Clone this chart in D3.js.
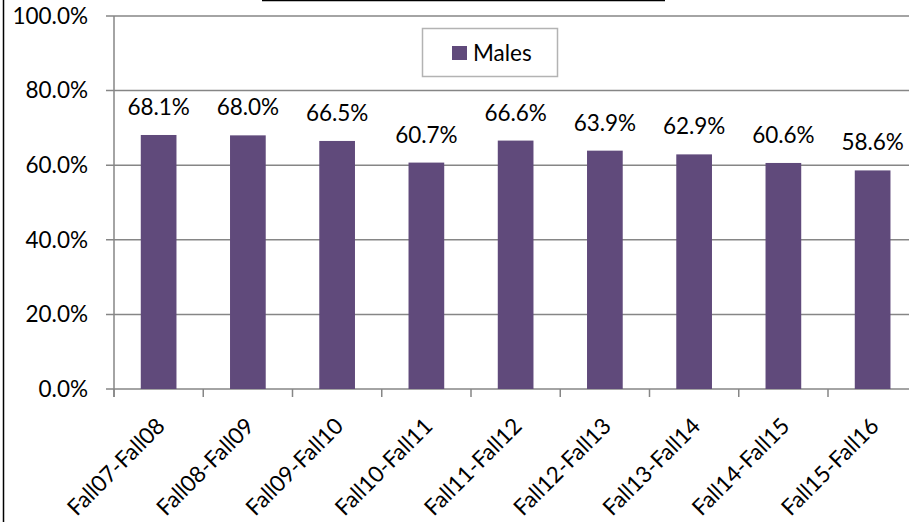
<!DOCTYPE html>
<html>
<head>
<meta charset="utf-8">
<script src="https://cdn.jsdelivr.net/npm/d3@7"></script>
<style>
    body { margin: 0; background: #fff; }
    svg { display: block; font-family: Lato, "Open Sans", sans-serif; }
</style>
</head>
<body>
<script>
var categories = ["Fall07-Fall08", "Fall08-Fall09", "Fall09-Fall10", "Fall10-Fall11", "Fall11-Fall12",
    "Fall12-Fall13", "Fall13-Fall14", "Fall14-Fall15", "Fall15-Fall16"];
var malesValues = [68.1, 68.0, 66.5, 60.7, 66.6, 63.9, 62.9, 60.6, 58.6];
var yTicks = [0, 20, 40, 60, 80, 100];
var seriesName = "Males";

var width = 909;
var height = 522;
var barColor = "#604a7b";
var gridColor = "#868686";
var fontSize = 22.5;

var svg = d3.select("body").append("svg")
    .attr("width", width)
    .attr("height", height);

// chart area border, cut off at the frame edges
svg.append("line")
    .attr("x1", 3.5).attr("x2", 3.5)
    .attr("y1", 0).attr("y2", height)
    .attr("stroke", "#000").attr("stroke-width", 1.5);
svg.append("line")
    .attr("x1", 262).attr("x2", 665)
    .attr("y1", 0.5).attr("y2", 0.5)
    .attr("stroke", "#000").attr("stroke-width", 1.5);

var x = d3.scaleBand()
    .domain(categories)
    .range([114, 114 + 9 * 89.25])
    .paddingInner(0.6)
    .paddingOuter(0.3);

var y = d3.scaleLinear()
    .domain([0, 100])
    .range([389, 16]);

// gridlines
svg.append("g")
    .selectAll("line")
    .data(yTicks)
    .join("line")
    .attr("x1", 106)
    .attr("x2", width)
    .attr("y1", d => y(d))
    .attr("y2", d => y(d))
    .attr("stroke", gridColor)
    .attr("stroke-width", 1.5);

// y axis labels
svg.append("g")
    .selectAll("text")
    .data(yTicks)
    .join("text")
    .attr("x", 88)
    .attr("y", d => y(d))
    .attr("dy", "0.35em")
    .attr("text-anchor", "end")
    .attr("font-size", fontSize)
    .attr("fill", "#000")
    .text(d => d.toFixed(1) + "%");

// y axis line
svg.append("line")
    .attr("x1", 114).attr("x2", 114)
    .attr("y1", y(100)).attr("y2", y(0) + 8)
    .attr("stroke", gridColor).attr("stroke-width", 1.5);

// category ticks
var step = x.step();
svg.append("g")
    .selectAll("line")
    .data(d3.range(categories.length + 1))
    .join("line")
    .attr("x1", i => x.range()[0] + i * step)
    .attr("x2", i => x.range()[0] + i * step)
    .attr("y1", y(0))
    .attr("y2", y(0) + 8)
    .attr("stroke", gridColor)
    .attr("stroke-width", 1.5);

// bars
svg.append("g")
    .selectAll("rect")
    .data(malesValues)
    .join("rect")
    .attr("x", (d, i) => x(categories[i]))
    .attr("y", d => y(d))
    .attr("width", x.bandwidth())
    .attr("height", d => y(0) - y(d))
    .attr("fill", barColor);

// value labels
svg.append("g")
    .selectAll("text")
    .data(malesValues)
    .join("text")
    .attr("x", (d, i) => x(categories[i]) + x.bandwidth() / 2)
    .attr("y", d => y(d) - 20)
    .attr("text-anchor", "middle")
    .attr("font-size", fontSize)
    .attr("fill", "#000")
    .text(d => d.toFixed(1) + "%");

// category labels, rotated
svg.append("g")
    .selectAll("text")
    .data(categories)
    .join("text")
    .attr("transform", d => "translate(" + (x(d) + x.bandwidth() / 2 + 2) + "," + (y(0) + 33) + ") rotate(-45)")
    .attr("text-anchor", "end")
    .attr("dy", "0.35em")
    .attr("font-size", fontSize)
    .attr("fill", "#000")
    .text(d => d);

// legend
var legend = svg.append("g");
legend.append("rect")
    .attr("x", 422.5).attr("y", 28.5)
    .attr("width", 135).attr("height", 48)
    .attr("fill", "#fff")
    .attr("stroke", "#b3b3b3")
    .attr("stroke-width", 1.5);
legend.append("rect")
    .attr("x", 452).attr("y", 46)
    .attr("width", 15).attr("height", 14)
    .attr("fill", barColor);
legend.append("text")
    .attr("x", 473).attr("y", 53)
    .attr("dy", "0.35em")
    .attr("font-size", fontSize)
    .attr("fill", "#000")
    .text(seriesName);
</script>
</body>
</html>
